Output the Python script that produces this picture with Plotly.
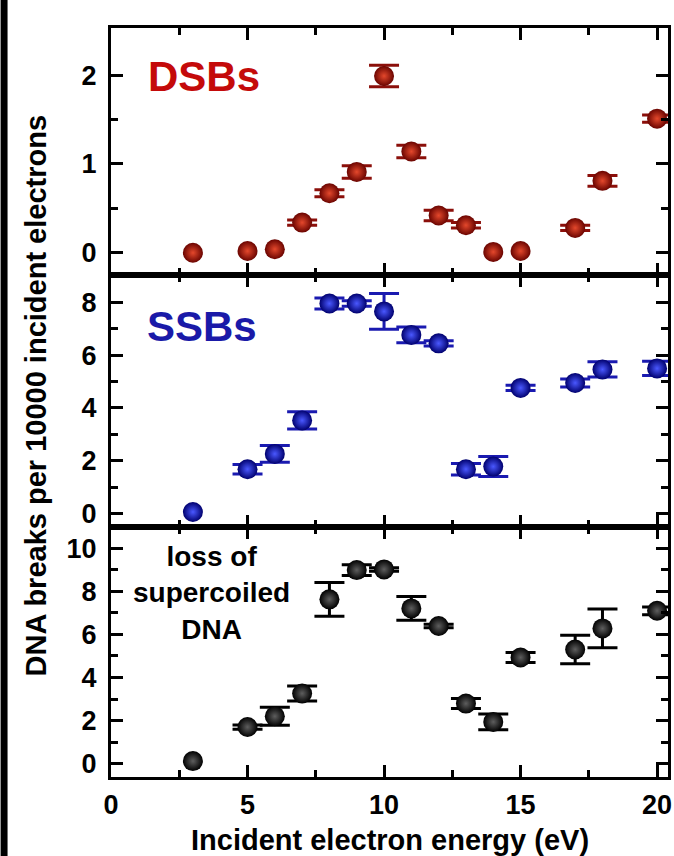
import plotly.graph_objects as go

# ---------------- data ----------------
energy = [3, 5, 6, 7, 8, 9, 10, 11, 12, 13, 14, 15, 17, 18, 20]

dsb = [0.0, 0.02, 0.04, 0.34, 0.67, 0.91, 1.99, 1.14, 0.42, 0.31, 0.01, 0.02, 0.28, 0.81, 1.51]
dsb_err = [None, None, None, 0.03, 0.04, 0.07, 0.12, 0.07, 0.06, 0.03, None, None, 0.03, 0.06, 0.04]

ssb = [0.06, 1.68, 2.26, 3.53, 7.96, 7.96, 7.66, 6.77, 6.45, 1.68, 1.78, 4.76, 4.95, 5.46, 5.50]
ssb_err = [None, 0.18, 0.32, 0.33, 0.21, 0.10, 0.68, 0.30, 0.10, 0.22, 0.38, 0.10, 0.15, 0.29, 0.27]

loss = [0.12, 1.70, 2.20, 3.26, 7.63, 8.99, 9.02, 7.21, 6.39, 2.79, 1.94, 4.93, 5.30, 6.28, 7.10]
loss_err = [None, 0.10, 0.42, 0.35, 0.78, 0.25, 0.08, 0.55, 0.08, 0.23, 0.37, 0.23, 0.66, 0.90, 0.18]

x_ticks = [0, 5, 10, 15, 20]
x_tick_labels = ["0", "5", "10", "15", "20"]
x_minor = [2.5, 7.5, 12.5, 17.5]

y1_ticks = [0, 1, 2]
y1_minor = [0.5, 1.5]
y2_ticks = [0, 2, 4, 6, 8]
y2_minor = [1, 3, 5, 7]
y3_ticks = [0, 2, 4, 6, 8, 10]
y3_minor = [1, 3, 5, 7, 9]

# ---------------- styling ----------------
FONT = "Liberation Sans, Arial, Helvetica, sans-serif"
W, H = 674, 856
ML, MR, MT, MB = 111, 3, 28, 79
plot_h = H - MT - MB
b1 = 275  # pixel y of border between panel 1 and 2
b2 = 527  # pixel y of border between panel 2 and 3
d1 = (H - MB - b1) / plot_h
d2 = (H - MB - b2) / plot_h

panels = [
    dict(x="x", y="y", vals=dsb, err=dsb_err, edge="#6a0400", center="#e4482c", bar="#8b0f0a"),
    dict(x="x2", y="y2", vals=ssb, err=ssb_err, edge="#00006e", center="#4a58ff", bar="#1a1ab0"),
    dict(x="x3", y="y3", vals=loss, err=loss_err, edge="#000000", center="#5e5e5e", bar="#000000"),
]

fig = go.Figure()
for p in panels:
    ex = [e for e, v in zip(energy, p["err"]) if v is not None]
    ey = [y for y, v in zip(p["vals"], p["err"]) if v is not None]
    ee = [v for v in p["err"] if v is not None]
    fig.add_trace(go.Scatter(
        x=ex, y=ey, mode="markers", xaxis=p["x"], yaxis=p["y"],
        marker=dict(size=2, color="rgba(0,0,0,0)"),
        error_y=dict(type="data", array=ee, color=p["bar"], thickness=3, width=15),
        showlegend=False, hoverinfo="skip"))
    fig.add_trace(go.Scatter(
        x=energy, y=p["vals"], mode="markers", xaxis=p["x"], yaxis=p["y"],
        marker=dict(size=20, color=p["edge"], line=dict(width=0),
                    gradient=dict(type="radial", color=p["center"])),
        showlegend=False))

tickfont = dict(family=FONT, size=27, color="black", weight="bold")
xcommon = dict(range=[0, 20.4], tickvals=x_ticks, ticktext=x_tick_labels,
               ticks="inside", ticklen=12, tickwidth=3, tickcolor="black",
               showline=True, linewidth=3, linecolor="black", mirror="allticks",
               showgrid=False, zeroline=False, tickfont=tickfont,
               minor=dict(tickvals=x_minor, ticks="inside", ticklen=7, tickwidth=3,
                          tickcolor="black", showgrid=False))
ycommon = dict(ticks="inside", ticklen=12, tickwidth=3, tickcolor="black",
               showline=True, linewidth=3, linecolor="black", mirror="allticks",
               showgrid=False, zeroline=False, tickfont=tickfont, ticklabelstandoff=6)

def ax(d, **kw):
    out = dict(d)
    minor = dict(out.pop("minor", {}))
    mk = kw.pop("minor_vals", None)
    if mk is not None:
        minor = dict(tickvals=mk, ticks="inside", ticklen=7, tickwidth=3,
                     tickcolor="black", showgrid=False)
    out.update(kw)
    if minor:
        out["minor"] = minor
    return out

fig.update_layout(
    width=W, height=H,
    margin=dict(l=ML, r=MR, t=MT, b=MB),
    paper_bgcolor="white", plot_bgcolor="white",
    xaxis=ax(xcommon, anchor="y", showticklabels=False),
    xaxis2=ax(xcommon, anchor="y2", showticklabels=False),
    xaxis3=ax(xcommon, anchor="y3", showticklabels=True, ticklabelstandoff=2),
    yaxis=ax(ycommon, domain=[d1, 1], anchor="x", range=[-0.25, 2.53],
             tickvals=y1_ticks, minor_vals=y1_minor),
    yaxis2=ax(ycommon, domain=[d2, d1], anchor="x2", range=[-0.51, 9.04],
              tickvals=y2_ticks, minor_vals=y2_minor),
    yaxis3=ax(ycommon, domain=[0, d2], anchor="x3", range=[-0.62, 10.99],
              tickvals=y3_ticks, minor_vals=y3_minor),
)

def px_to_paper_x(px):
    return (px - ML) / (W - ML - MR)

def px_to_paper_y(py):
    return (H - MB - py) / plot_h

fig.add_annotation(text="DSBs", xref="x", yref="y", x=1.28, y=1.98,
                   xanchor="left", yanchor="middle", showarrow=False,
                   font=dict(family=FONT, size=42, color="#c40a0a", weight="bold"))
fig.add_annotation(text="SSBs", xref="x2", yref="y2", x=1.25, y=7.08,
                   xanchor="left", yanchor="middle", showarrow=False,
                   font=dict(family=FONT, size=42, color="#1a1aa8", weight="bold"))
fig.add_annotation(text="loss of<br>supercoiled<br>DNA", xref="x3", yref="y3",
                   x=3.68, y=7.94, xanchor="center", yanchor="middle", align="center",
                   showarrow=False,
                   font=dict(family=FONT, size=28, color="black", weight="bold"))
fig.add_annotation(text="DNA breaks per 10000 incident electrons", textangle=-90,
                   xref="paper", yref="paper", x=px_to_paper_x(36), y=px_to_paper_y(396),
                   xanchor="center", yanchor="middle", showarrow=False,
                   font=dict(family=FONT, size=29, color="black", weight="bold"))
fig.add_annotation(text="Incident electron energy (eV)",
                   xref="paper", yref="paper", x=px_to_paper_x(392), y=px_to_paper_y(840),
                   xanchor="center", yanchor="middle", showarrow=False,
                   font=dict(family=FONT, size=29, color="black", weight="bold"))

# dark strip at the left edge of the picture
fig.add_shape(type="rect", xref="paper", yref="paper",
              x0=px_to_paper_x(0), x1=px_to_paper_x(7),
              y0=px_to_paper_y(H), y1=px_to_paper_y(0),
              fillcolor="black", line=dict(width=0), layer="above")

fig.write_html("out.html",
               config={"displayModeBar": False},
               post_script="document.body.style.margin='0px';"
                           "document.body.style.overflow='hidden';")
